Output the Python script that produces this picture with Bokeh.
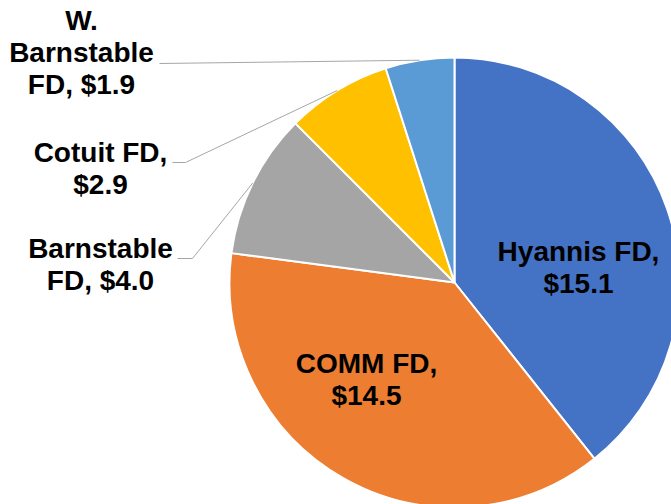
import math
from bokeh.plotting import figure
from bokeh.models import Range1d, ColumnDataSource
from bokeh.core.properties import value
from bokeh.embed import file_html
from bokeh.resources import INLINE

# ---- data ----
departments = ["Hyannis FD", "COMM FD", "Barnstable FD", "Cotuit FD", "W. Barnstable FD"]
amounts = [15.1, 14.5, 4.0, 2.9, 1.9]
colors = ["#4472C4", "#ED7D31", "#A5A5A5", "#FFC000", "#5B9BD5"]
label_lines = [
    ["Hyannis FD,", "$15.1"],
    ["COMM FD,", "$14.5"],
    ["Barnstable", "FD, $4.0"],
    ["Cotuit FD,", "$2.9"],
    ["W.", "Barnstable", "FD, $1.9"],
]

# ---- layout (screen px; y data = -screen y) ----
W, H = 671, 504
CX, CY, R = 454, -282, 225
FONT = "28px"
TEXT_SHIFT = -10
label_anchor = [
    (578, 261),
    (366, 373),
    (100, 258),
    (100, 162),
    (81, 30),
]
LINE_H = 32
leader_start = [None, None, (177, 258), (172, 162), (159, 63)]
leader_elbow = [None, None, (192, 258), (185, 162), None]

total = sum(amounts)
starts, ends, mids = [], [], []
cum = 0.0
for a in amounts:
    s = math.pi / 2 - (cum + a) / total * 2 * math.pi
    e = math.pi / 2 - cum / total * 2 * math.pi
    starts.append(s)
    ends.append(e)
    mids.append((s + e) / 2)
    cum += a

p = figure(width=W, height=H, output_backend="svg", toolbar_location=None,
           x_range=Range1d(0, W), y_range=Range1d(-H, 0),
           min_border=0, outline_line_color=None)
p.axis.visible = False
p.grid.visible = False
p.background_fill_color = "white"
p.border_fill_color = "white"

src = ColumnDataSource(dict(x=[CX] * len(amounts), y=[CY] * len(amounts),
                            start=starts, end=ends, color=colors))
p.wedge(x="x", y="y", radius=R, start_angle="start", end_angle="end",
        fill_color="color", line_color="white", line_width=2, source=src)

for i in range(len(amounts)):
    if leader_start[i] is None:
        continue
    ex = CX + R * math.cos(mids[i])
    ey = CY + R * math.sin(mids[i])
    xs = [leader_start[i][0]]
    ys = [-leader_start[i][1]]
    if leader_elbow[i] is not None:
        xs.append(leader_elbow[i][0])
        ys.append(-leader_elbow[i][1])
    xs.append(ex)
    ys.append(ey)
    p.line(xs, ys, line_color="#A6A6A6", line_width=1)

tx, ty, tt = [], [], []
for i, lines in enumerate(label_lines):
    ax, ay = label_anchor[i]
    for j, t in enumerate(lines):
        tx.append(ax)
        ty.append(-(ay + TEXT_SHIFT + j * LINE_H))
        tt.append(t)
p.text(x=tx, y=ty, text=tt, text_align="center", text_baseline="alphabetic",
       text_font=value("Liberation Sans"), text_font_style="bold",
       text_font_size=FONT, text_color="#000000")

open("out.html", "w").write(file_html(p, INLINE))
